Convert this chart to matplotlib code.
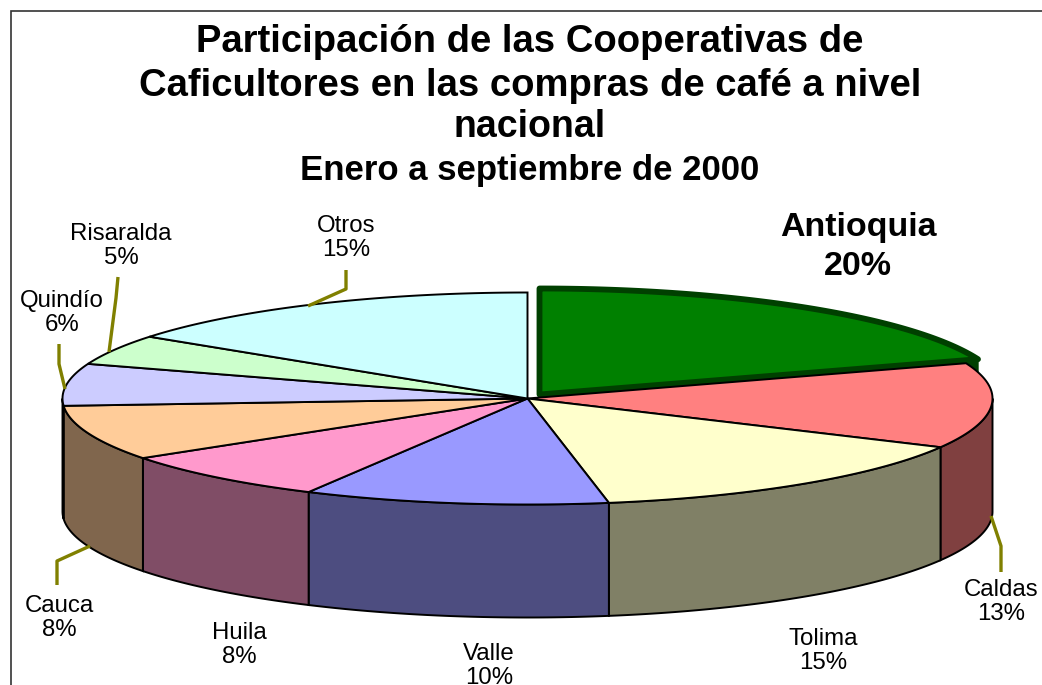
#!/usr/bin/env python3
from __future__ import annotations

import numpy as np
import matplotlib
matplotlib.use("Agg")
import matplotlib.pyplot as plt
from matplotlib.patches import Polygon, Rectangle

plt.rcParams["font.family"] = ["Liberation Sans", "DejaVu Sans"]

# data, clockwise from 12 o'clock
CATEGORIES = ["Antioquia", "Caldas", "Tolima", "Valle", "Huila", "Cauca", "Quindío", "Risaralda", "Otros"]
VALUES = [19.6, 13.0, 14.6, 10.6, 7.7, 8.4, 6.4, 4.6, 15.1]
PERCENT_LABELS = ["20%", "13%", "15%", "10%", "8%", "8%", "6%", "5%", "15%"]
TITLE_LINES = [
    "Participación de las Cooperativas de",
    "Caficultores en las compras de café a nivel",
    "nacional",
    "Enero a septiembre de 2000",
]

# styles
TOP_COLORS = ["#008000", "#FF8080", "#FFFFCC", "#9999FF", "#FF99CC", "#FFCC99", "#CCCCFF", "#CCFFCC", "#CCFFFF"]
SIDE_COLORS = ["#004000", "#804040", "#808066", "#4D4D80", "#804D66", "#80664D", "#666680", "#668066", "#668080"]
LEADER_COLOR = "#808000"

# layout, in reference pixels
CX, CY = 527.5, 398.5
RX, RY = 465.0, 106.0
DEPTH = 113.0
EXPLODE = (12.0, -4.0)
LABEL_POS = {
    "Caldas": (1001, 602), "Tolima": (823, 651), "Valle": (489, 666), "Huila": (239, 645),
    "Cauca": (59, 618), "Quindío": (62, 313), "Risaralda": (121, 246), "Otros": (346, 238),
}
LEADERS = [
    [(118, 277), (116, 298), (109, 352)],
    [(59, 344), (59, 364), (65, 389)],
    [(346, 270), (346, 289), (308, 306)],
    [(57, 585), (57, 561), (90, 546)],
    [(991, 516), (1001, 546), (1001, 572)],
]


def rim(t0: float, t1: float, dx: float = 0.0, dy: float = 0.0) -> np.ndarray:
    t = np.radians(np.linspace(t0, t1, max(int(abs(t1 - t0)) * 2, 2)))
    return np.column_stack([CX + dx + RX * np.sin(t), CY + dy - RY * np.cos(t)])


def main() -> None:
    fig = plt.figure(figsize=(10.42, 6.85), dpi=100)
    ax = fig.add_axes([0, 0, 1, 1])
    ax.set_xlim(0, 1042)
    ax.set_ylim(685, 0)
    ax.axis("off")

    ax.add_patch(Rectangle((11, 11), 1100, 800, fc="white", ec="#333333", lw=1.2, zorder=0))

    edges = np.concatenate([[0], np.cumsum(VALUES)]) * 3.6
    spans = list(zip(edges[:-1], edges[1:]))

    # exploded slice goes behind everything else
    t0, t1 = spans[0]
    dx, dy = EXPLODE
    outline = rim(t0, t1, dx, dy)
    wall = np.vstack([outline[-30:], (outline[-30:] + [0, 15])[::-1]])
    ax.add_patch(Polygon(wall, fc=SIDE_COLORS[0], ec=SIDE_COLORS[0], lw=1, zorder=1))
    top = np.vstack([[CX + dx, CY + dy], outline])
    ax.add_patch(Polygon(top, fc=TOP_COLORS[0], ec=SIDE_COLORS[0], lw=4.2, joinstyle="round", zorder=2))

    # front walls, only the 90..270 degree part can be seen
    for (t0, t1), side in list(zip(spans, SIDE_COLORS))[1:]:
        a, b = max(t0, 90), min(t1, 270)
        if a >= b:
            continue
        arc = rim(a, b)
        wall = np.vstack([arc, (arc + [0, DEPTH])[::-1]])
        ax.add_patch(Polygon(wall, fc=side, ec="black", lw=1.4, zorder=3))

    for (t0, t1), color in list(zip(spans, TOP_COLORS))[1:]:
        top = np.vstack([[CX, CY], rim(t0, t1)])
        ax.add_patch(Polygon(top, fc=color, ec="black", lw=1.4, zorder=4))

    for pts in LEADERS:
        xs, ys = zip(*pts)
        ax.plot(xs, ys, color=LEADER_COLOR, lw=2.4, solid_capstyle="butt", zorder=5)

    title_y = [42, 86, 127, 170]
    title_size = [27.5, 27.5, 27, 25]
    for line, y, size in zip(TITLE_LINES, title_y, title_size):
        ax.text(530, y, line, ha="center", va="center", fontsize=size, fontweight="bold")

    ax.text(858, 247, f"{CATEGORIES[0]}\n{PERCENT_LABELS[0]}", ha="center", va="center",
            fontsize=24.5, fontweight="bold", linespacing=1.33)
    for name, pct in zip(CATEGORIES[1:], PERCENT_LABELS[1:]):
        x, y = LABEL_POS[name]
        ax.text(x, y, f"{name}\n{pct}", ha="center", va="center", fontsize=17.3, linespacing=1.15)

    fig.savefig("out.png")
    plt.close(fig)


if __name__ == "__main__":
    main()
